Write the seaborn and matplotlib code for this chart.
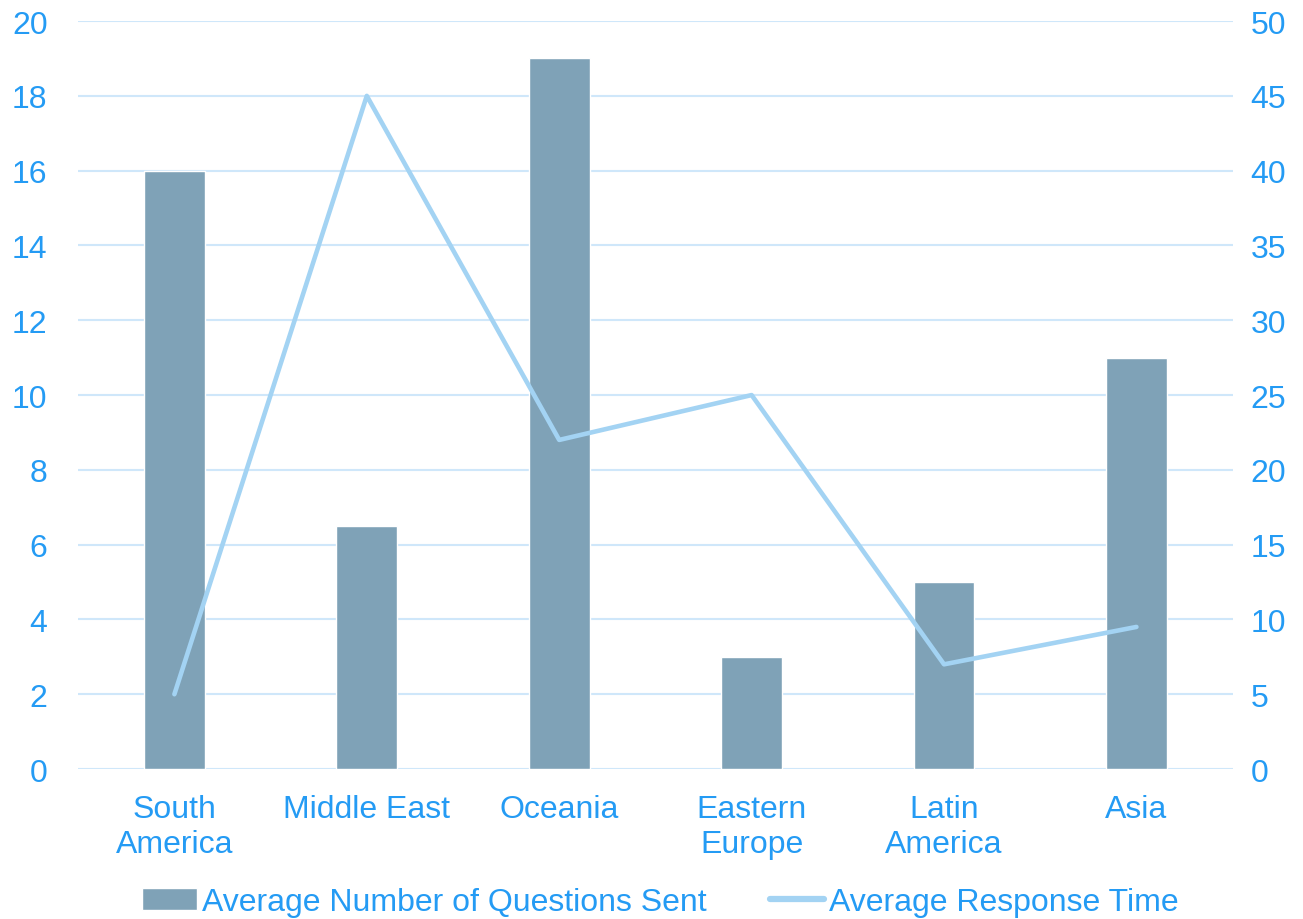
import numpy as np
import pandas as pd
import seaborn as sns
import matplotlib.pyplot as plt
from matplotlib.patches import Patch
from matplotlib.lines import Line2D

# dữ liệu
regions = ["South\nAmerica", "Middle East", "Oceania", "Eastern\nEurope", "Latin\nAmerica", "Asia"]
questions_sent = [16, 6.5, 19, 3, 5, 11]
response_time = [5, 45, 22, 25, 7, 9.5]

bar_color = "#7FA2B7"
line_color = "#A3D3F3"
text_color = "#249BF4"
grid_color = "#CFE7FA"

sns.set_style("white")
plt.rcParams["font.family"] = ["Liberation Sans", "DejaVu Sans"]

df = pd.DataFrame({"region": regions, "questions": questions_sent,
                   "pos": np.arange(len(regions)), "response": response_time})

fig = plt.figure(figsize=(13.03, 9.2), dpi=100)
ax = fig.add_axes([0.06, 0.163, 0.886, 0.813])

sns.barplot(data=df, x="region", y="questions", color=bar_color, width=0.315,
            saturation=1, ax=ax, zorder=2)
ax.set_ylim(0, 20)
ax.set_yticks(range(0, 21, 2))
ax.set_xlim(-0.5, len(regions) - 0.5)
ax.yaxis.grid(True, color=grid_color, linewidth=1.5, zorder=0)
ax.set_axisbelow(True)
ax.set_xlabel("")
ax.set_ylabel("")

ax2 = ax.twinx()
sns.lineplot(data=df, x="pos", y="response", sort=False, color=line_color,
             linewidth=3.3, ax=ax2)
ax2.set_ylim(0, 50)
ax2.set_yticks(range(0, 51, 5))
ax2.set_xlim(-0.5, len(regions) - 0.5)
ax2.set_ylabel("")

for a in (ax, ax2):
    for s in a.spines.values():
        s.set_visible(False)
    a.tick_params(length=0, labelsize=23, colors=text_color)
ax.tick_params(axis="y", pad=22)
ax.tick_params(axis="x", pad=18)
ax2.tick_params(axis="y", pad=13)
for lbl in ax.get_xticklabels():
    lbl.set_linespacing(1.2)

handles = [Patch(facecolor=bar_color), Line2D([0], [0], color=line_color, linewidth=4.5)]
leg = fig.legend(handles, ["Average Number of Questions Sent", "Average Response Time"],
                 loc="center", bbox_to_anchor=(0.507, 0.018), ncol=2, frameon=False,
                 fontsize=23, handlelength=1.7, handletextpad=0.15, columnspacing=2.0)
for t in leg.get_texts():
    t.set_color(text_color)

fig.savefig("out.png", dpi=100)
